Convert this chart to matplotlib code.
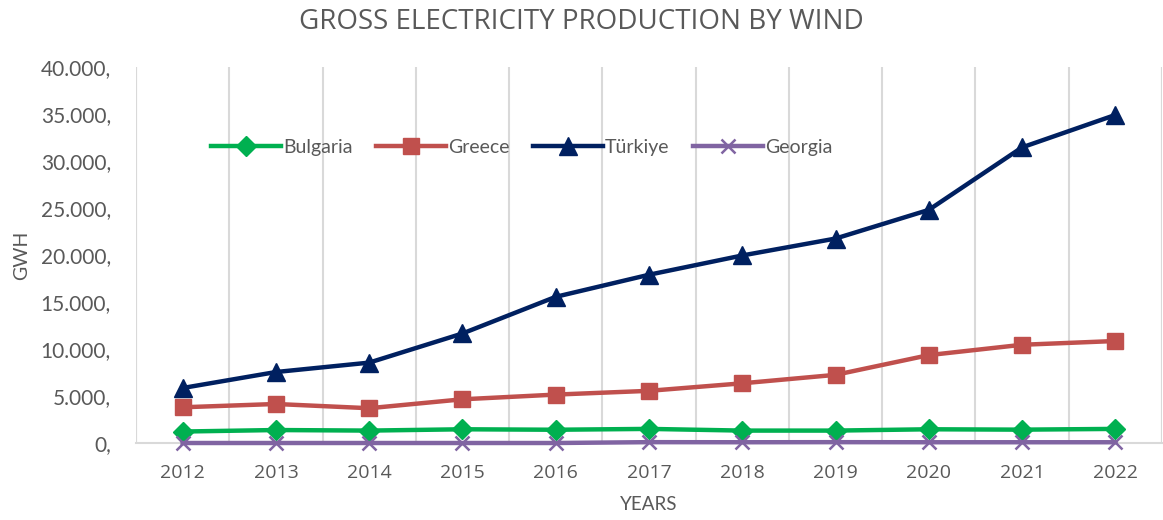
import matplotlib

matplotlib.use("Agg")

import matplotlib.pyplot as plt
from matplotlib.ticker import FuncFormatter, MultipleLocator

plt.rcParams["font.family"] = ["Lato", "DejaVu Sans"]

YEARS = ["2012", "2013", "2014", "2015", "2016", "2017",
         "2018", "2019", "2020", "2021", "2022"]
BULGARIA = [1220, 1380, 1320, 1460, 1410, 1500, 1320, 1320, 1460, 1420, 1500]
GREECE = [3800, 4150, 3700, 4650, 5150, 5550, 6350, 7250, 9350, 10450, 10850]
TURKIYE = [5850, 7550, 8550, 11650, 15550, 17900, 19950, 21750, 24800, 31450, 34900]
GEORGIA = [0, 0, 0, 0, 0, 90, 80, 90, 80, 80, 80]

SERIES = [
    ("Bulgaria", BULGARIA, "#00b050", "D", 10),
    ("Greece", GREECE, "#c0504d", "s", 12),
    ("Türkiye", TURKIYE, "#002060", "^", 13),
    ("Georgia", GEORGIA, "#8064a2", "x", 10),
]

TEXT_COLOR = "#595959"
GRID_COLOR = "#d9d9d9"

fig = plt.figure(figsize=(11.63, 5.2), dpi=100)
ax = fig.add_axes([136 / 1163, 77 / 520, 1026 / 1163, 376 / 520])

x = list(range(len(YEARS)))
for name, values, color, marker, size in SERIES:
    ax.plot(x, values, color=color, linewidth=3.2, marker=marker,
            markersize=size, markeredgewidth=1.8 if marker == "x" else 1,
            label=name, zorder=3, clip_on=False)

ax.set_xlim(-0.5, len(YEARS) - 0.5)
ax.set_ylim(0, 40000)
ax.set_xticks(x)
ax.set_xticklabels(YEARS, family=["Open Sans", "DejaVu Sans"])
ax.xaxis.set_minor_locator(MultipleLocator(1, offset=0.5))
ax.yaxis.set_major_locator(MultipleLocator(5000))
ax.yaxis.set_major_formatter(
    FuncFormatter(lambda v, _: f"{v:,.0f}".replace(",", ".") + ","))

ax.grid(True, which="minor", axis="x", color=GRID_COLOR, linewidth=1.5, zorder=0)
for side in ["top", "right", "left"]:
    ax.spines[side].set_visible(False)
ax.spines["bottom"].set_color(GRID_COLOR)
ax.spines["bottom"].set_linewidth(1.5)
ax.axvline(-0.5, color=GRID_COLOR, linewidth=1.5, zorder=0)
ax.axvline(len(YEARS) - 0.5, color=GRID_COLOR, linewidth=1.5, zorder=0)

ax.tick_params(axis="both", which="both", length=0, colors=TEXT_COLOR)
ax.tick_params(axis="y", labelsize=15, pad=18)
ax.tick_params(axis="x", labelsize=14, pad=15)

ax.set_xlabel("YEARS", fontsize=13.5, color=TEXT_COLOR, labelpad=10)
ax.set_ylabel("GWH", fontsize=14, color=TEXT_COLOR, labelpad=8)
fig.text(0.5, 0.958, "GROSS ELECTRICITY PRODUCTION BY WIND", ha="center",
         va="center", fontsize=20, color=TEXT_COLOR,
         family=["Open Sans", "DejaVu Sans"])

ax.legend(loc="center", bbox_to_anchor=(0.376, 0.787), ncol=4, frameon=False,
          fontsize=14, labelcolor=TEXT_COLOR, handlelength=3.6,
          handletextpad=0.1, columnspacing=1.2)

fig.savefig("out.png", dpi=100)
plt.close(fig)
